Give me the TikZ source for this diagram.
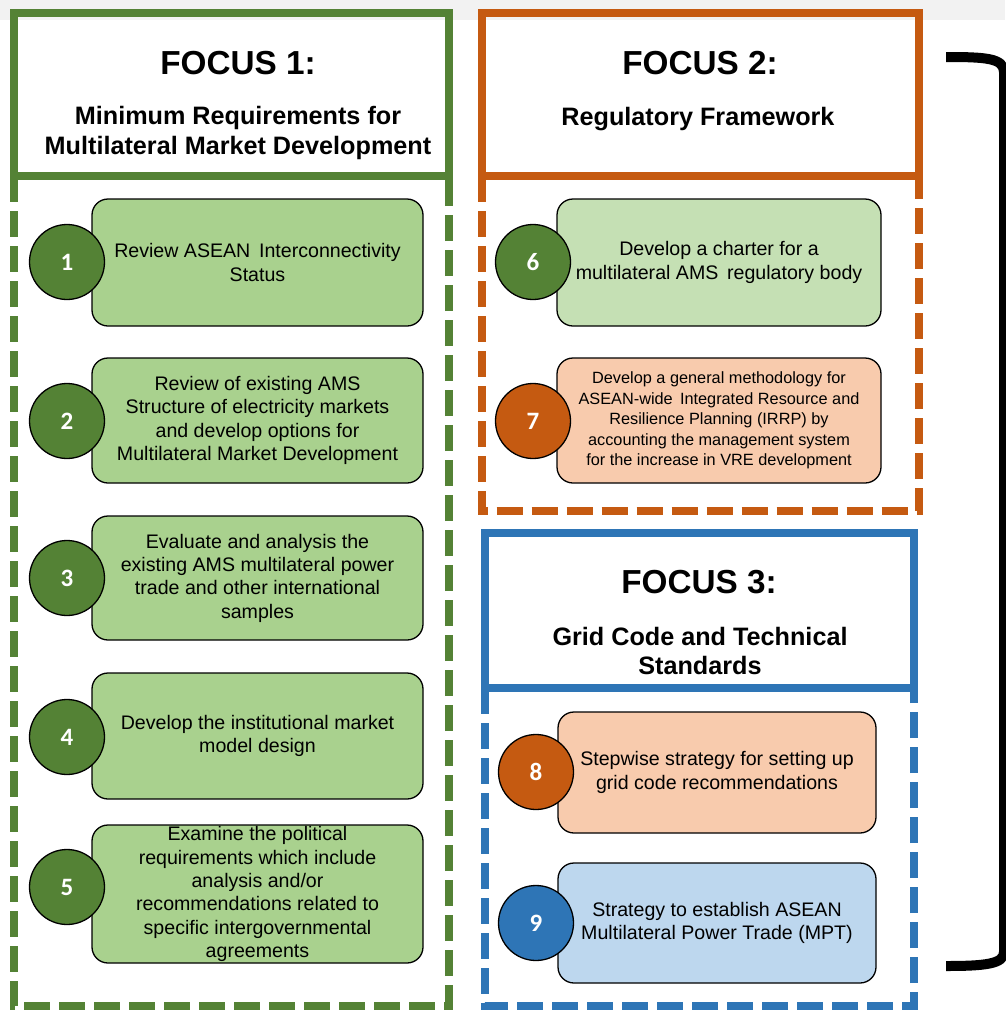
\documentclass[tikz,border=0pt]{standalone}
\usepackage{fontspec}
\setmainfont{Liberation Sans}
\newfontfamily\numfont{Carlito}
\definecolor{fgreen}{HTML}{548235}
\definecolor{forange}{HTML}{C55A11}
\definecolor{fblue}{HTML}{2E75B6}
\definecolor{lgreen}{HTML}{A9D18E}
\definecolor{pgreen}{HTML}{C5E0B4}
\definecolor{lorange}{HTML}{F8CBAD}
\definecolor{lblue}{HTML}{BDD7EE}
\definecolor{topgray}{HTML}{F2F2F2}
\begin{document}
\begin{tikzpicture}[x=1pt,y=-1pt,
  frame/.style={line width=8pt, line join=miter},
  dashframe/.style={line width=8pt, dash pattern=on 26pt off 9pt},
  taskbox/.style={draw=black, line width=1.3pt, rounded corners=16pt, inner sep=0pt,
    align=center, font=\fontsize{19.6}{23.3}\selectfont},
  smalltask/.style={taskbox, font=\fontsize{16.3}{20.6}\selectfont},
  numcircle/.style={circle, draw=black, line width=1.3pt, minimum size=75pt, inner sep=0pt,
    text=white, font=\numfont\bfseries\fontsize{25}{25}\selectfont},
  focustitle/.style={font=\bfseries\fontsize{33.3}{36}\selectfont, inner sep=0pt},
  focussub/.style={font=\bfseries\fontsize{25.2}{29.5}\selectfont, align=center, inner sep=0pt},
  brace/.style={line width=10pt}
]
\useasboundingbox (0,0) rectangle (1005,1010);
\fill[white] (0,0) rectangle (1005,1010);
\fill[topgray] (0,0) rectangle (1005,20);

% ---------- FOCUS 1 ----------
\draw[frame, fgreen] (14,13) rectangle (449,176);
\draw[dashframe, fgreen] (14,176) -- (14,1006) -- (449,1006) -- (449,176);
\node[focustitle] (f1t) at (238,63) {FOCUS 1:};
\node[focussub] (f1s) at (238,133) {Minimum Requirements for\\Multilateral Market Development};

\node[taskbox, fill=lgreen, minimum width=331pt, minimum height=127pt] (b1) at (257.5,262.5)
  {Review ASEAN\, Interconnectivity\\Status};
\node[taskbox, fill=lgreen, minimum width=331pt, minimum height=125pt] (b2) at (257.5,420.5)
  {Review of existing AMS\\Structure of electricity markets\\and develop options for\\Multilateral Market Development};
\node[taskbox, fill=lgreen, minimum width=331pt, minimum height=124pt] (b3) at (257.5,578)
  {Evaluate and analysis the\\existing AMS multilateral power\\trade and other international\\samples};
\node[taskbox, fill=lgreen, minimum width=331pt, minimum height=126pt] (b4) at (257.5,736)
  {Develop the institutional market\\model design};
\node[taskbox, fill=lgreen, minimum width=331pt, minimum height=138pt] (b5) at (257.5,894)
  {Examine the political\\requirements which include\\analysis and/or\\recommendations related to\\specific intergovernmental\\agreements};

\node[numcircle, fill=fgreen] (c1) at (67,262) {1};
\node[numcircle, fill=fgreen] (c2) at (67,421) {2};
\node[numcircle, fill=fgreen] (c3) at (67,578) {3};
\node[numcircle, fill=fgreen] (c4) at (67,737) {4};
\node[numcircle, fill=fgreen] (c5) at (67,887) {5};

% ---------- FOCUS 2 ----------
\draw[frame, forange] (481.5,13) rectangle (919,176);
\draw[dashframe, forange] (481.5,176) -- (481.5,511) -- (919,511) -- (919,176);
\node[focustitle] (f2t) at (700,63) {FOCUS 2:};
\node[focussub] (f2s) at (698,119) {Regulatory Framework};

\node[taskbox, fill=pgreen, minimum width=324pt, minimum height=127pt] (b6) at (719,262.5)
  {Develop a charter for a\\multilateral AMS\, regulatory body};
\node[smalltask, fill=lorange, minimum width=324pt, minimum height=125pt] (b7) at (719,420.5)
  {Develop a general methodology for\\ASEAN-wide\, Integrated Resource and\\Resilience Planning (IRRP) by\\accounting the management system\\for the increase in VRE development};

\node[numcircle, fill=fgreen] (c6) at (533,262) {6};
\node[numcircle, fill=forange] (c7) at (533,421) {7};

% ---------- FOCUS 3 ----------
\draw[frame, fblue] (485,532.5) rectangle (914,688);
\draw[dashframe, fblue] (485,688) -- (485,1006) -- (914,1006) -- (914,688);
\node[focustitle] (f3t) at (699,582) {FOCUS 3:};
\node[focussub] (f3s) at (700,651) {Grid Code and Technical\\Standards};

\node[taskbox, fill=lorange, minimum width=318pt, minimum height=121pt] (b8) at (717,772.5)
  {Stepwise strategy for setting up\\grid code recommendations};
\node[taskbox, fill=lblue, minimum width=318pt, minimum height=120pt] (b9) at (717,923)
  {Strategy to establish ASEAN\\Multilateral Power Trade (MPT)};

\node[numcircle, fill=forange] (c8) at (536,772) {8};
\node[numcircle, fill=fblue] (c9) at (536,923) {9};

% ---------- bracket ----------
\draw[brace] (946,57) .. controls (985,57) and (1004,58) .. (1004,72) -- (1004,952)
  .. controls (1004,964) and (985,966) .. (946,966);
\end{tikzpicture}
\end{document}
